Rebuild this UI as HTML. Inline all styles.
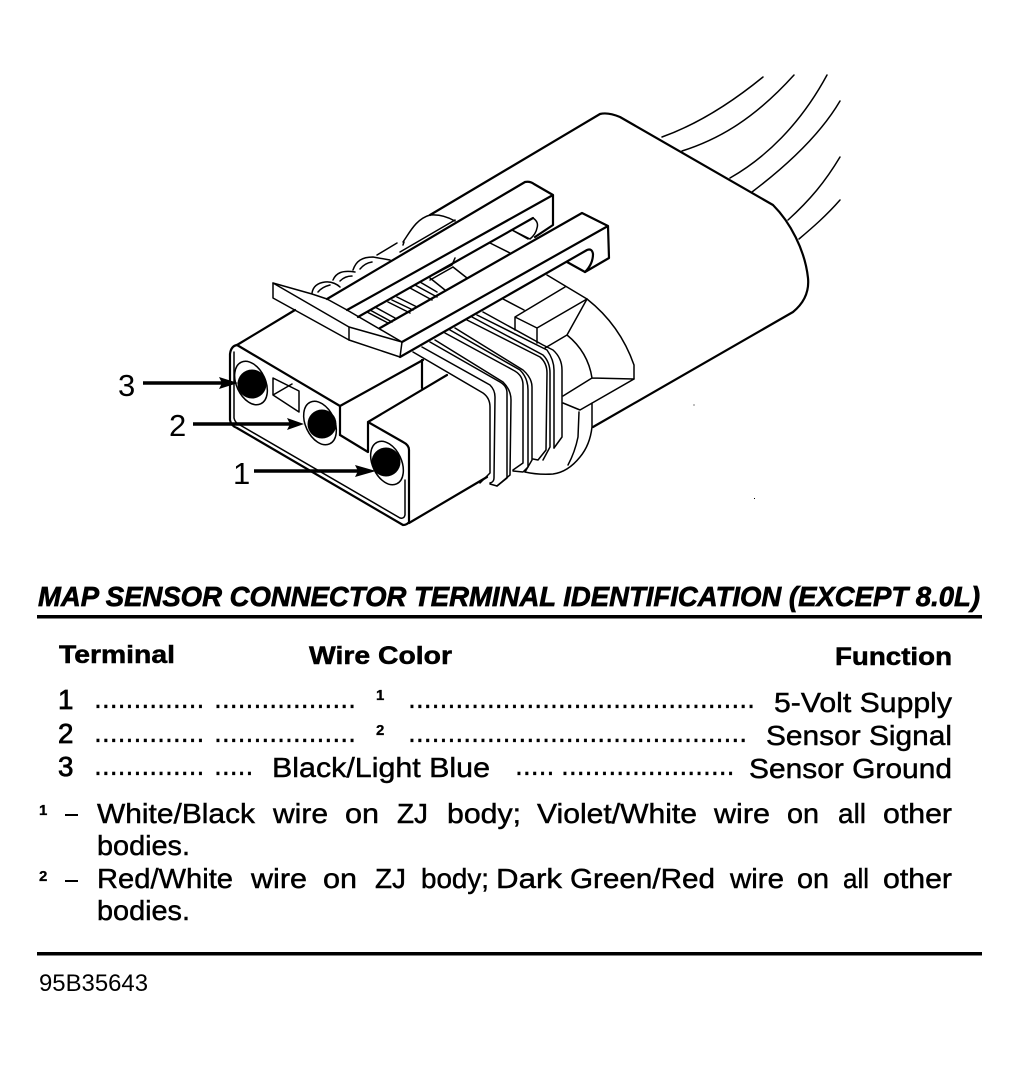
<!DOCTYPE html>
<html><head><meta charset="utf-8"><style>
html,body{margin:0;padding:0;background:#fff;width:1019px;height:1067px;overflow:hidden}
svg{display:block}
text{font-family:"Liberation Sans",sans-serif;fill:#000}
.l path{fill:none;stroke:#000;stroke-width:1.5;stroke-linejoin:round;stroke-linecap:round}
.h path{fill:none;stroke:#000;stroke-width:2.2;stroke-linejoin:round;stroke-linecap:round}
.r{font-size:27.7px;stroke:#000;stroke-width:.45}
.n{font-size:27.7px;stroke:#000;stroke-width:.8}
.b{font-size:25px;font-weight:bold;stroke:#000;stroke-width:.5}
.d{font-size:28.4px;font-weight:normal;stroke:#000;stroke-width:.3}
.s{font-size:15px;font-weight:bold;stroke:#000;stroke-width:.3}
</style></head><body>
<svg width="1019" height="1067" viewBox="0 0 1019 1067" xmlns="http://www.w3.org/2000/svg">
<!-- wires -->
<g class="l"><path d="M662 137C690 127 725 108 763 77"/>
<path d="M682 151C720 139 755 118 794 75"/>
<path d="M730 178C765 158 800 125 827 75"/>
<path d="M752 192C785 167 820 135 840 101"/>
<path d="M788 220C810 200 825 182 840 157"/>
<path d="M799 239C812 228 826 216 840 200"/></g>
<!-- housing -->
<g class="h"><path d="M430 215L600 114Q608 112 620 117L773 205C790 222 805 250 808 278Q810 298 793 312L593 427"/>
<path d="M237 345L295 310"/>
<path d="M237 345L340 406L340 435M340 406L423 360"/>
<path d="M237 345Q231 346 230 354L230 420Q231 426 237 428L403 525Q407 525 409 522L409 450Q409 445 403 442L368 422L368 452L340 435M368 422L447 375M422 360L422 388"/>
<path d="M409 523L487 477"/></g>
<g class="l"><path d="M234 352L234 418Q235 423 240 425L400 518Q404 519 405 515L405 480"/>
<path d="M273 378L299 391L299 412L273 395ZM273 395L292 384"/>
<!-- holes -->
<ellipse cx="251" cy="383" rx="14.5" ry="23" transform="rotate(-25 251 383)" fill="#fff" stroke="#000" stroke-width="1.5"/>
<ellipse cx="320" cy="423" rx="14.5" ry="23" transform="rotate(-25 320 423)" fill="#fff" stroke="#000" stroke-width="1.5"/>
<ellipse cx="387" cy="463" rx="14.5" ry="23" transform="rotate(-25 387 463)" fill="#fff" stroke="#000" stroke-width="1.5"/></g>
<circle cx="252" cy="384" r="14.5"/><circle cx="322" cy="424" r="14.5"/><circle cx="386" cy="462" r="14.5"/>
<!-- seal ridges -->
<g class="l">
<path d="M413 352L483 393Q490 398 490 407L490 473L480 483"/>
<path d="M422 347L490 385Q495 390 495 397L494 478Q494 482 490 483"/>
<path d="M430 342L500 382Q507 386 507 393L507 478L497 486L490 484"/>
<path d="M435 340L503 382Q511 390 511 400L510 475L497 486"/>
<path d="M445 333L513 370Q523 375 523 385L523 463L513 470"/>
<path d="M450 330L520 370Q528 378 528 390L528 467L523 472L513 471"/>
<path d="M455 328L523 370Q532 378 532 387L532 460L525 472"/>
<path d="M467 320L540 357Q547 363 547 373L546 450L538 460L533 459"/>
<path d="M472 317L543 355Q550 362 550 373L550 447L543 460"/>
<path d="M477 315L547 350Q554 360 554 370L554 448"/>
<path d="M483 312L543 345L553 350Q562 358 562 370L562 437L554 448"/>
<!-- shoulder & boot -->
<path d="M515 317L515 330M515 317L537 328L537 343M515 317L565 287M537 328L587 299M547 275L587 299"/>
<path d="M503 299L524 310"/>
<path d="M587 299L567 335L545 348M567 335Q588 352 592 378L563 396M592 378L634 379"/>
<path d="M587 299Q620 325 634 365L634 379L580 410L563 403M592 403L592 427Q590 445 580 457Q568 472 553 474Q538 475 525 472"/>
<path d="M579 412L578 437Q575 452 568 465"/>
<!-- tab -->
<path d="M273 283L273 298L349 340L400 357L402 342L349 327L273 283Z" fill="#fff"/>
<path d="M349 327L349 340M273 283L312 294L327 299L347 310L402 342"/>
<!-- bumps -->
<path d="M312 293C313 287 317 283 325 282C332 281 338 285 340 287M318 292Q322 287 330 285M333 280C336 273 342 270 355 272M340 281Q345 276 352 276M353 270C356 261 362 257 373 257L390 260M360 269Q365 263 372 262M377 255L397 243M403 242C410 232 416 219 430 215C440 214 448 217 455 221M400 252L455 220M403 245L404 242"/>
<!-- channel -->
<path d="M427 278L452 265L455 258M430 280L453 267"/>
<path d="M430 278L445 290M453 267L467 278M490 243L510 253M512 230L528 239"/>
<path d="M367 312L388 323M370 310L392 322M375 307L395 318M388 302L410 313M392 300L413 310M397 297L417 307M410 288L432 300M415 285L437 297M420 282L437 292"/>
</g>
<!-- rails -->
<g class="h"><path d="M327 299L525 182Q530 181 534 184L553 195L553 225L535 237M347 310L553 195"/>
<path d="M358 317L533 218"/>
<path d="M380 328L582 213L608 226L609 258L585 272M402 342L608 226"/>
<path d="M400 357L587 250Q592 248 593 254Q593 264 585 272L567 262"/>
</g>
<g class="l"><path d="M533 218Q539 222 537 228Q536 234 530 239L512 230"/></g>
<!-- arrows -->
<g stroke="#000" stroke-width="3.5"><line x1="143" y1="383" x2="225" y2="383"/><line x1="193" y1="424" x2="292" y2="424"/><line x1="254" y1="471" x2="362" y2="471"/></g>
<path d="M238 383L219 377L222 383L219 389Z"/><path d="M304 424L287 418L290 424L287 430Z"/><path d="M376 471L355 465L358 471L355 477Z"/>
<rect x="693.500" y="404.500" width="1" height="1"/><rect x="754" y="498" width="1" height="1"/>
<!-- callouts -->
<text x="118" y="396" font-size="31">3</text><text x="169" y="436" font-size="31">2</text><text x="233" y="484" font-size="31">1</text>
<!-- title -->
<text x="38" y="606" font-size="28" font-weight="bold" font-style="italic" textLength="942" lengthAdjust="spacingAndGlyphs" stroke="#000" stroke-width=".7">MAP SENSOR CONNECTOR TERMINAL IDENTIFICATION (EXCEPT 8.0L)</text>
<rect x="37" y="615" width="945" height="3.500"/>
<text class="b" x="59" y="663" textLength="116" lengthAdjust="spacingAndGlyphs">Terminal</text>
<text class="b" x="309" y="664" textLength="143" lengthAdjust="spacingAndGlyphs">Wire Color</text>
<text class="b" x="835" y="665" textLength="117" lengthAdjust="spacingAndGlyphs">Function</text>
<!-- rows -->
<text class="n" x="58" y="709">1</text><text class="n" x="58" y="743">2</text><text class="n" x="58" y="776">3</text>
<text class="d" x="94" y="708">..............</text><text class="d" x="214" y="708">..................</text>
<text class="s" x="376" y="700">1</text>
<text class="d" x="408" y="708">............................................</text>
<text class="r" x="774" y="712" textLength="178" lengthAdjust="spacingAndGlyphs">5-Volt Supply</text>
<text class="d" x="94" y="742">..............</text><text class="d" x="214" y="742">..................</text>
<text class="s" x="376" y="735">2</text>
<text class="d" x="408" y="742">...........................................</text>
<text class="r" x="766" y="745" textLength="186" lengthAdjust="spacingAndGlyphs">Sensor Signal</text>
<text class="d" x="94" y="775">..............</text><text class="d" x="214" y="775">.....</text>
<text class="r" x="272" y="777" textLength="218" lengthAdjust="spacingAndGlyphs">Black/Light Blue</text>
<text class="d" x="515" y="775">.....</text><text class="d" x="561" y="775">......................</text>
<text class="r" x="749" y="778" textLength="203" lengthAdjust="spacingAndGlyphs">Sensor Ground</text>
<!-- footnotes -->
<text class="s" x="39" y="815">1</text><rect x="65" y="814" width="13" height="2"/>
<g class="r">
<text x="97" y="823" textLength="158" lengthAdjust="spacingAndGlyphs">White/Black</text>
<text x="273" y="823" textLength="55" lengthAdjust="spacingAndGlyphs">wire</text>
<text x="345" y="823" textLength="34" lengthAdjust="spacingAndGlyphs">on</text>
<text x="397" y="823" textLength="31" lengthAdjust="spacingAndGlyphs">ZJ</text>
<text x="447" y="823" textLength="74" lengthAdjust="spacingAndGlyphs">body;</text>
<text x="537" y="823" textLength="160" lengthAdjust="spacingAndGlyphs">Violet/White</text>
<text x="714" y="823" textLength="56" lengthAdjust="spacingAndGlyphs">wire</text>
<text x="787" y="823" textLength="32" lengthAdjust="spacingAndGlyphs">on</text>
<text x="838" y="823" textLength="28" lengthAdjust="spacingAndGlyphs">all</text>
<text x="883" y="823" textLength="69" lengthAdjust="spacingAndGlyphs">other</text>
<text x="97" y="855" textLength="93" lengthAdjust="spacingAndGlyphs">bodies.</text>
<text x="97" y="888" textLength="136" lengthAdjust="spacingAndGlyphs">Red/White</text>
<text x="251" y="888" textLength="56" lengthAdjust="spacingAndGlyphs">wire</text>
<text x="323" y="888" textLength="34" lengthAdjust="spacingAndGlyphs">on</text>
<text x="375" y="888" textLength="31" lengthAdjust="spacingAndGlyphs">ZJ</text>
<text x="421" y="888" textLength="68" lengthAdjust="spacingAndGlyphs">body;</text>
<text x="496" y="888" textLength="66" lengthAdjust="spacingAndGlyphs">Dark</text>
<text x="570" y="888" textLength="145" lengthAdjust="spacingAndGlyphs">Green/Red</text>
<text x="730" y="888" textLength="54" lengthAdjust="spacingAndGlyphs">wire</text>
<text x="797" y="888" textLength="32" lengthAdjust="spacingAndGlyphs">on</text>
<text x="843" y="888" textLength="26" lengthAdjust="spacingAndGlyphs">all</text>
<text x="883" y="888" textLength="69" lengthAdjust="spacingAndGlyphs">other</text>
<text x="97" y="920" textLength="93" lengthAdjust="spacingAndGlyphs">bodies.</text>
</g>
<text class="s" x="39" y="881">2</text><rect x="65" y="880" width="13" height="2"/>
<rect x="37" y="952" width="945" height="3.500"/>
<text x="39" y="991" font-size="24" textLength="109" lengthAdjust="spacingAndGlyphs">95B35643</text>
</svg>
</body></html>
